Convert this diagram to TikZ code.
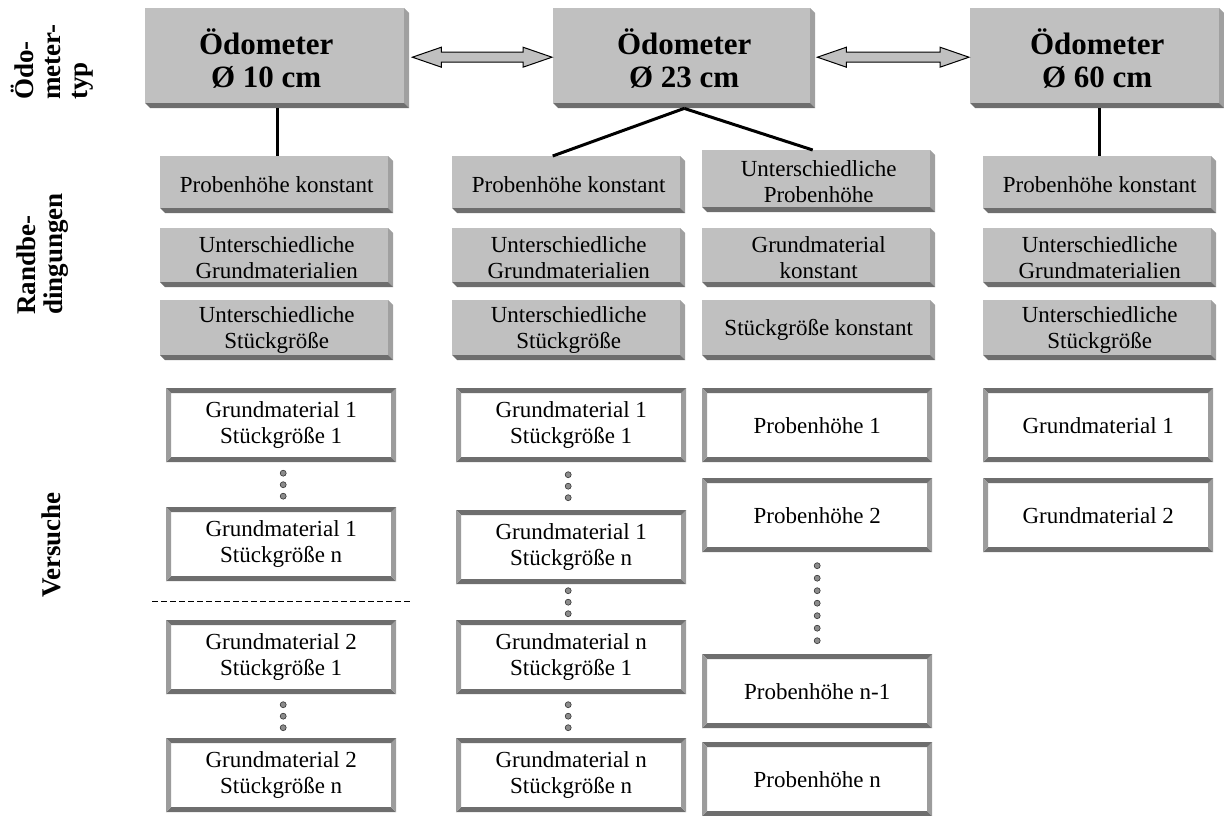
\documentclass[tikz,border=0pt]{standalone}
\usepackage{fontspec}
\setmainfont{Liberation Serif}
\usetikzlibrary{calc}
\definecolor{facegray}{HTML}{C0C0C0}
\definecolor{sidegray}{HTML}{A0A0A0}
\definecolor{shadegray}{HTML}{6E6E6E}
\definecolor{framelight}{HTML}{9C9C9C}
\definecolor{dotgray}{HTML}{8C8C8C}
\begin{document}
\begin{tikzpicture}[x=1pt,y=-1pt,
  % grey block with a 5pt extrusion to the lower right
  gbox/.style={rectangle, inner sep=0pt, anchor=north west, align=center,
    font=\fontsize{23}{26}\selectfont,
    path picture={
      \fill[facegray] (path picture bounding box.north west) rectangle
        ($(path picture bounding box.south east)+(-5,-5)$);
      \fill[sidegray] ($(path picture bounding box.north east)+(-5,0)$) --
        ($(path picture bounding box.north east)+(0,5)$) --
        (path picture bounding box.south east) --
        ($(path picture bounding box.south east)+(-5,-5)$) -- cycle;
      \fill[shadegray] ($(path picture bounding box.south west)+(0,-5)$) --
        ($(path picture bounding box.south east)+(-5,-5)$) --
        (path picture bounding box.south east) --
        ($(path picture bounding box.south west)+(5,0)$) -- cycle;
    }},
  titlebox/.style={gbox, font=\bfseries\fontsize{31}{33}\selectfont},
  smallbox/.style={gbox, minimum width=233pt},
  % white test box with a bevelled frame
  wbox/.style={rectangle, inner sep=0pt, anchor=north west, align=center,
    fill=white, minimum width=230pt, minimum height=74pt,
    font=\fontsize{23}{26}\selectfont,
    path picture={
      \fill[shadegray] (path picture bounding box.north west) --
        (path picture bounding box.north east) --
        ($(path picture bounding box.north east)+(-5,5)$) --
        ($(path picture bounding box.north west)+(5,5)$) -- cycle;
      \fill[shadegray] (path picture bounding box.south west) --
        (path picture bounding box.south east) --
        ($(path picture bounding box.south east)+(-5,-5)$) --
        ($(path picture bounding box.south west)+(5,-5)$) -- cycle;
      \fill[framelight] (path picture bounding box.north west) --
        (path picture bounding box.south west) --
        ($(path picture bounding box.south west)+(5,-5)$) --
        ($(path picture bounding box.north west)+(5,5)$) -- cycle;
      \fill[framelight] (path picture bounding box.north east) --
        (path picture bounding box.south east) --
        ($(path picture bounding box.south east)+(-5,-5)$) --
        ($(path picture bounding box.north east)+(-5,5)$) -- cycle;
    }},
  rowlabel/.style={rotate=90, align=left, inner sep=0pt,
    font=\bfseries\fontsize{27}{27}\selectfont},
  link/.style={line width=3pt},
  dblarrow/.style={fill=facegray, draw=black, line width=1pt, line join=miter},
  dot/.style={fill=dotgray, draw=black!80, line width=0.6pt},
  sep/.style={line width=1pt, dash pattern=on 6pt off 3pt}
]
\useasboundingbox (0,0) rectangle (1224,816);

% row labels
\node[rowlabel] (lab1) at (52,62) {Ödo-\\meter-\\typ};
\node[rowlabel] (lab2) at (43,254) {Randbe-\\dingungen};
\node[rowlabel] (lab3) at (51,545) {Versuche};

% oedometer types
\node[titlebox, minimum width=264pt, minimum height=100pt] (t1) at (145,8)
  {\hspace*{-22pt}Ödometer\\\hspace*{-22pt}Ø 10 cm};
\node[titlebox, minimum width=262pt, minimum height=100pt] (t2) at (553,8) {Ödometer\\Ø 23 cm};
\node[titlebox, minimum width=254pt, minimum height=100pt] (t3) at (970,8) {Ödometer\\Ø 60 cm};

% boundary conditions
\node[smallbox, minimum height=57pt] (g11) at (160,156) {Probenhöhe konstant};
\node[smallbox, minimum height=59pt] (g12) at (160,228) {Unterschiedliche\\Grundmaterialien};
\node[smallbox, minimum height=60pt] (g13) at (160,300) {Unterschiedliche\\Stückgröße};

\node[smallbox, minimum height=57pt] (g21) at (452,156) {Probenhöhe konstant};
\node[smallbox, minimum height=59pt] (g22) at (452,228) {Unterschiedliche\\Grundmaterialien};
\node[smallbox, minimum height=60pt] (g23) at (452,300) {Unterschiedliche\\Stückgröße};

\node[smallbox, minimum height=62pt] (g31) at (702,150) {Unterschiedliche\\Probenhöhe};
\node[smallbox, minimum height=59pt] (g32) at (702,228) {Grundmaterial\\konstant};
\node[smallbox, minimum height=60pt] (g33) at (702,300) {Stückgröße konstant};

\node[smallbox, minimum height=57pt] (g41) at (983,156) {Probenhöhe konstant};
\node[smallbox, minimum height=59pt] (g42) at (983,228) {Unterschiedliche\\Grundmaterialien};
\node[smallbox, minimum height=60pt] (g43) at (983,300) {Unterschiedliche\\Stückgröße};

% tests
\node[wbox] (w11) at (166,388) {Grundmaterial 1\\Stückgröße 1};
\node[wbox] (w12) at (166,507) {Grundmaterial 1\\Stückgröße n};
\node[wbox] (w13) at (166,620) {Grundmaterial 2\\Stückgröße 1};
\node[wbox] (w14) at (166,738) {Grundmaterial 2\\Stückgröße n};

\node[wbox] (w21) at (456,388) {Grundmaterial 1\\Stückgröße 1};
\node[wbox] (w22) at (456,510) {Grundmaterial 1\\Stückgröße n};
\node[wbox] (w23) at (456,620) {Grundmaterial n\\Stückgröße 1};
\node[wbox] (w24) at (456,738) {Grundmaterial n\\Stückgröße n};

\node[wbox] (w31) at (702,388) {Probenhöhe 1};
\node[wbox] (w32) at (702,478) {Probenhöhe 2};
\node[wbox] (w33) at (702,654) {Probenhöhe n-1};
\node[wbox] (w34) at (702,742) {Probenhöhe n};

\node[wbox] (w41) at (983,388) {Grundmaterial 1};
\node[wbox] (w42) at (983,478) {Grundmaterial 2};

% connectors from the oedometer types
\draw[link] (t1.south) -- (t1.south |- g11.north);
\draw[link] (t2.south) -- ($(g21.north)+(-16,0)$);
\draw[link] (t2.south) -- ($(g31.north)+(-6,0)$);
\draw[link] (g41.north |- t3.south) -- (g41.north);

% double arrows between the oedometer types
\coordinate (a1l) at ($(t1.east)+(3,-1)$);
\coordinate (a1r) at ($(t2.west)+(-1,-1)$);
\coordinate (a2l) at ($(t2.east)+(2,-1)$);
\coordinate (a2r) at ($(t3.west)+(-1,-1)$);
\foreach \l/\r in {a1l/a1r, a2l/a2r}{
  \draw[dblarrow] (\l) -- ++(29,-10) -- ++(0,5) -- ($(\r)+(-29,-5)$) -- ++(0,-5)
    -- (\r) -- ++(-29,10) -- ++(0,-5) -- ($(\l)+(29,5)$) -- ++(0,5) -- cycle;
}

% ellipsis dots between tests
\foreach \a/\b/\dx in {w11/w12/2, w13/w14/2, w21/w22/-3, w22/w23/-3, w23/w24/-3}{
  \foreach \k in {-1,0,1}
    \draw[dot] ($(\a.south)!0.5!(\b.north)+(\dx,\k*11.5)$) circle (3pt);
}
\foreach \k in {-3,...,3}
  \draw[dot] ($(w32.south)!0.5!(w33.north)+(0,\k*12.5)$) circle (3pt);

% separator between base materials
\draw[sep] (152,601) -- (412,601);
\end{tikzpicture}
\end{document}
